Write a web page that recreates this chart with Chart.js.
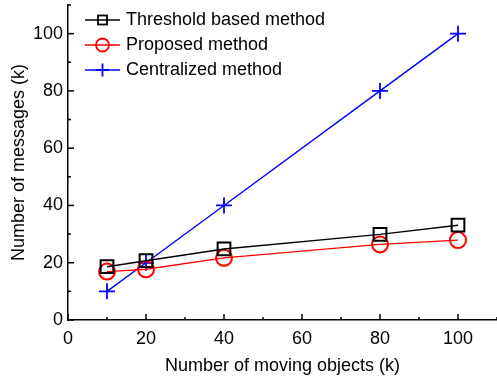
<!DOCTYPE html>
<html>
<head>
<meta charset="utf-8">
<script src="https://cdn.jsdelivr.net/npm/chart.js@4"></script>
<style>
  html, body { margin: 0; padding: 0; background: #fff; }
  #wrap { width: 497px; height: 381px; }
</style>
</head>
<body>
<div id="wrap"><canvas id="chart" width="497" height="381"></canvas></div>
<script>
// data
var objects = [10, 20, 40, 80, 100];
var thresholdMsgs = [18.6, 20.7, 24.8, 29.9, 33.1];
var proposedMsgs = [16.9, 17.7, 21.7, 26.4, 27.9];
var centralMsgs = [10, 20, 40, 80, 100];
var seriesNames = ['Threshold based method', 'Proposed method', 'Centralized method'];
var xTicks = [0, 20, 40, 60, 80, 100];
var yTicks = [0, 20, 40, 60, 80, 100];

var FONT = '"Liberation Sans", Arial, sans-serif';

function pts(vals) {
    return objects.map(function (x, i) { return { x: x, y: vals[i] }; });
}

// inward ticks on left and bottom axes
var innerTicks = {
    id: 'innerTicks',
    afterDraw: function (chart) {
        var ctx = chart.ctx, a = chart.chartArea;
        var xs = chart.scales.x, ys = chart.scales.y;
        ctx.save();
        ctx.strokeStyle = '#000';
        ctx.lineWidth = 1.5;
        for (var v = 0; v <= 110; v += 10) {
            var len = (v % 20 === 0) ? 6 : 3;
            var px = xs.getPixelForValue(v);
            ctx.beginPath(); ctx.moveTo(px, a.bottom); ctx.lineTo(px, a.bottom - len); ctx.stroke();
            var py = ys.getPixelForValue(v);
            ctx.beginPath(); ctx.moveTo(a.left, py); ctx.lineTo(a.left + len, py); ctx.stroke();
        }
        ctx.restore();
    }
};

// legend drawn inside the plot, line + marker
var lineLegend = {
    id: 'lineLegend',
    afterDraw: function (chart) {
        var ctx = chart.ctx;
        var x0 = 85, y0 = 20, gap = 25;
        ctx.save();
        chart.data.datasets.forEach(function (ds, i) {
            var y = y0 + i * gap;
            ctx.strokeStyle = ds.borderColor;
            ctx.lineWidth = 1.4;
            ctx.beginPath(); ctx.moveTo(x0, y); ctx.lineTo(x0 + 35, y); ctx.stroke();
            var cx = x0 + 17.5;
            ctx.lineWidth = 1.8;
            if (ds.pointStyle === 'rect') {
                ctx.strokeRect(cx - 4.5, y - 4.5, 9, 9);
            } else if (ds.pointStyle === 'circle') {
                ctx.beginPath(); ctx.arc(cx, y, 6.5, 0, Math.PI * 2); ctx.stroke();
            } else {
                ctx.beginPath();
                ctx.moveTo(cx - 6.5, y); ctx.lineTo(cx + 6.5, y);
                ctx.moveTo(cx, y - 6.5); ctx.lineTo(cx, y + 6.5);
                ctx.stroke();
            }
            ctx.fillStyle = '#000';
            ctx.font = '18px ' + FONT;
            ctx.textBaseline = 'middle';
            ctx.fillText(ds.label, x0 + 41, y);
        });
        ctx.restore();
    }
};

new Chart(document.getElementById('chart'), {
    type: 'line',
    data: {
        datasets: [
            { label: seriesNames[0], data: pts(thresholdMsgs), borderColor: '#000', backgroundColor: 'transparent',
              pointStyle: 'rect', pointRadius: 9, pointBorderWidth: 2, borderWidth: 1.4 },
            { label: seriesNames[1], data: pts(proposedMsgs), borderColor: '#ff0000', backgroundColor: 'transparent',
              pointStyle: 'circle', pointRadius: 8, pointBorderWidth: 2, borderWidth: 1.4 },
            { label: seriesNames[2], data: pts(centralMsgs), borderColor: '#0000ff', backgroundColor: 'transparent',
              pointStyle: 'cross', pointRadius: 8, pointBorderWidth: 1.8, borderWidth: 1.4 }
        ]
    },
    options: {
        responsive: false,
        animation: false,
        clip: false,
        layout: { autoPadding: false, padding: { top: 5, right: 0, left: 0, bottom: 0 } },
        plugins: { legend: { display: false }, tooltip: { enabled: false } },
        scales: {
            x: {
                type: 'linear', min: 0, max: 110,
                afterBuildTicks: function (s) { s.ticks = xTicks.map(function (v) { return { value: v }; }); },
                afterFit: function (s) { s.height = 61; s.paddingLeft = 0; s.paddingRight = 0; },
                grid: { display: false, drawTicks: false },
                border: { color: '#000', width: 1.5 },
                ticks: { color: '#000', padding: 8, maxRotation: 0, font: { family: FONT, size: 18 } },
                title: { display: true, text: 'Number of moving objects (k)', color: '#000', padding: { top: 0 },
                         font: { family: FONT, size: 18 } }
            },
            y: {
                type: 'linear', min: 0, max: 110,
                afterBuildTicks: function (s) { s.ticks = yTicks.map(function (v) { return { value: v }; }); },
                afterFit: function (s) { s.width = 68; s.paddingTop = 0; s.paddingBottom = 0; },
                grid: { display: false, drawTicks: false },
                border: { color: '#000', width: 1.5 },
                ticks: { color: '#000', padding: 5, font: { family: FONT, size: 18 } },
                title: { display: true, text: 'Number of messages (k)', color: '#000', padding: { top: 8, bottom: 2 },
                         font: { family: FONT, size: 18 } }
            }
        }
    },
    plugins: [innerTicks, lineLegend]
});
</script>
</body>
</html>
